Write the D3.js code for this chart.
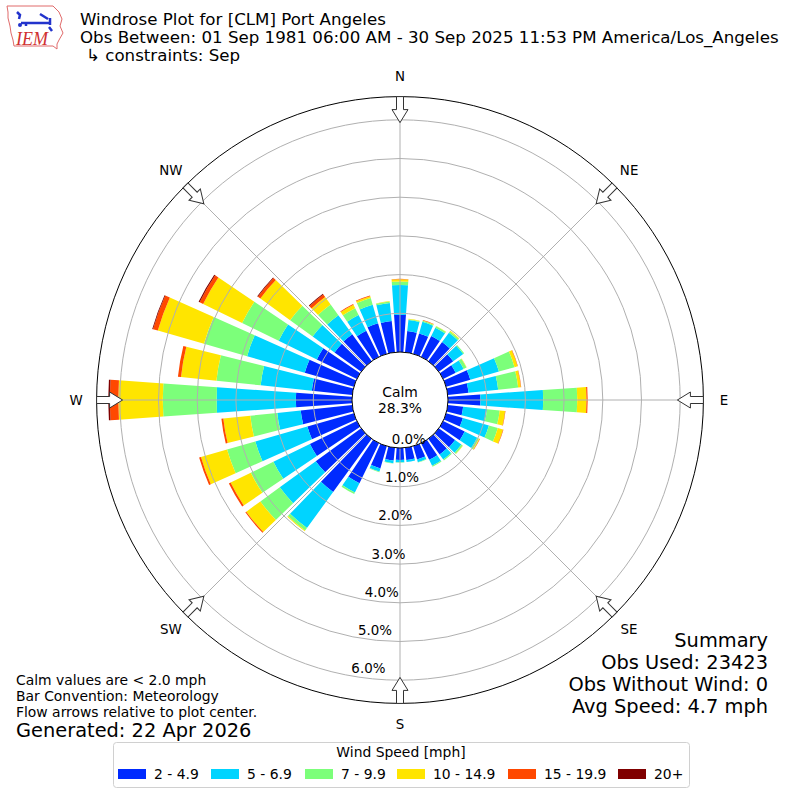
<!DOCTYPE html>
<html>
<head>
<meta charset="utf-8">
<script src="https://cdn.jsdelivr.net/npm/d3@7"></script>
<style>
body { margin: 0; background: #fff; }
svg { font-family: "DejaVu Sans", sans-serif; }
</style>
</head>
<body>
<svg width="800" height="800"></svg>
<script>
var svg = d3.select("svg");
var width = +svg.attr("width");
var height = +svg.attr("height");

// Direction bins (degrees, meteorological, wind from)
var directions = [0, 10, 20, 30, 40, 50, 60, 70, 80, 90, 100, 110, 120, 130, 140, 150, 160, 170,
    180, 190, 200, 210, 220, 230, 240, 250, 260, 270, 280, 290, 300, 310, 320, 330, 340, 350];

var speedBins = ["2 - 4.9", "5 - 6.9", "7 - 9.9", "10 - 14.9", "15 - 19.9", "20+"];
var binColors = ["#002aff", "#00d4ff", "#7cff7a", "#ffe500", "#ff4800", "#800000"];

// Percent of obs per direction, one array per speed bin
var speed2to5 = [0.96, 0.55, 0.55, 0.60, 0.61, 0.46, 0.36, 0.65, 0.54, 0.84, 0.40, 0.45,
    0.62, 0.52, 0.50, 0.48, 0.36, 0.32, 0.31, 0.33, 0.60, 1.15, 1.70, 1.45,
    1.35, 1.25, 1.34, 1.45, 1.05, 1.32, 1.15, 0.85, 0.86, 0.75, 0.82, 0.81];
var speed5to7 = [0.77, 0.29, 0.31, 0.24, 0.30, 0.32, 0.23, 0.77, 0.77, 1.62, 0.62, 0.70,
    0.36, 0.20, 0.16, 0.17, 0.07, 0.05, 0.06, 0.07, 0.08, 0.27, 1.15, 1.15,
    1.05, 1.40, 0.61, 2.05, 1.33, 1.55, 1.10, 0.70, 0.61, 0.45, 0.50, 0.47];
var speed7to10 = [0.09, 0.02, 0.03, 0.04, 0.04, 0.03, 0.08, 0.42, 0.52, 0.88, 0.33, 0.24,
    0.05, 0.04, 0.03, 0.03, 0.01, 0.00, 0.01, 0.01, 0.02, 0.04, 0.08, 0.62,
    0.65, 0.76, 0.70, 1.39, 1.15, 1.16, 1.05, 0.72, 0.34, 0.20, 0.18, 0.04];
var speed10to15 = [0.06, 0.01, 0.01, 0.01, 0.02, 0.00, 0.01, 0.08, 0.07, 0.24, 0.14, 0.14,
    0.02, 0.01, 0.00, 0.00, 0.00, 0.00, 0.00, 0.00, 0.00, 0.00, 0.02, 0.45,
    0.58, 0.70, 0.70, 1.15, 0.92, 1.24, 1.12, 0.95, 0.24, 0.10, 0.05, 0.01];
var speed15to20 = [0.01, 0.00, 0.01, 0.00, 0.00, 0.00, 0.00, 0.01, 0.01, 0.03, 0.01, 0.01,
    0.01, 0.00, 0.00, 0.00, 0.00, 0.00, 0.00, 0.00, 0.00, 0.00, 0.00, 0.03,
    0.05, 0.05, 0.05, 0.22, 0.08, 0.13, 0.10, 0.08, 0.08, 0.02, 0.02, 0.00];
var speed20plus = [0.00, 0.00, 0.00, 0.00, 0.00, 0.00, 0.00, 0.00, 0.00, 0.00, 0.00, 0.00,
    0.00, 0.00, 0.00, 0.00, 0.00, 0.00, 0.00, 0.00, 0.00, 0.00, 0.00, 0.00,
    0.00, 0.00, 0.00, 0.04, 0.00, 0.02, 0.03, 0.02, 0.02, 0.00, 0.00, 0.00];
var series = [speed2to5, speed5to7, speed7to10, speed10to15, speed15to20, speed20plus];

var calmPercent = 28.3;
var radialTicks = [0, 1, 2, 3, 4, 5, 6];
var compassLabels = ["N", "NE", "E", "SE", "S", "SW", "W", "NW"];
var compassAngles = [0, 45, 90, 135, 180, 225, 270, 315];

var titleLines = [
    "Windrose Plot for [CLM] Port Angeles",
    "Obs Between: 01 Sep 1981 06:00 AM - 30 Sep 2025 11:53 PM America/Los_Angeles",
    "\u21b3 constraints: Sep"
];
var summaryLines = ["Summary", "Obs Used: 23423", "Obs Without Wind: 0", "Avg Speed: 4.7 mph"];
var noteLines = ["Calm values are < 2.0 mph", "Bar Convention: Meteorology", "Flow arrows relative to plot center."];
var generatedText = "Generated: 22 Apr 2026";

var cx = 400, cy = 400;
var r = d3.scaleLinear().domain([0, 6.6]).range([48, 303.4]);
var rad = Math.PI / 180;
var small = 13.9;

var plot = svg.append("g").attr("transform", "translate(" + cx + "," + cy + ")");

// stacked segments
var segments = [];
directions.forEach(function(dir, i) {
    var cum = 0;
    series.forEach(function(s, k) {
        if (s[i] > 0) {
            segments.push({ dir: dir, k: k, y0: cum, y1: cum + s[i] });
        }
        cum += s[i];
    });
});

var arc = d3.arc()
    .innerRadius(function(d) { return r(d.y0); })
    .outerRadius(function(d) { return r(d.y1); })
    .startAngle(function(d) { return (d.dir - 4) * rad; })
    .endAngle(function(d) { return (d.dir + 4) * rad; });

plot.append("g")
    .selectAll("path")
    .data(segments)
    .enter()
    .append("path")
    .attr("d", arc)
    .attr("fill", function(d) { return binColors[d.k]; });

// grid on top of bars
var grid = plot.append("g").attr("fill", "none").attr("stroke", "#b0b0b0").attr("stroke-width", 1);
grid.selectAll("circle")
    .data(radialTicks.slice(1))
    .enter()
    .append("circle")
    .attr("r", function(d) { return r(d); });
grid.selectAll("line")
    .data(compassAngles)
    .enter()
    .append("line")
    .attr("x1", function(d) { return r(0) * Math.sin(d * rad); })
    .attr("y1", function(d) { return -r(0) * Math.cos(d * rad); })
    .attr("x2", function(d) { return r.range()[1] * Math.sin(d * rad); })
    .attr("y2", function(d) { return -r.range()[1] * Math.cos(d * rad); });

plot.append("circle")
    .attr("r", r.range()[1])
    .attr("fill", "none")
    .attr("stroke", "#000")
    .attr("stroke-width", 1);

// calm circle
plot.append("circle")
    .attr("r", r(0))
    .attr("fill", "#fff")
    .attr("stroke", "#000")
    .attr("stroke-width", 1);
plot.append("text")
    .attr("text-anchor", "middle")
    .attr("y", -3)
    .attr("font-size", small)
    .text("Calm");
plot.append("text")
    .attr("text-anchor", "middle")
    .attr("y", 13)
    .attr("font-size", small)
    .text(calmPercent.toFixed(1) + "%");

// radial labels along 190 degrees
plot.append("g")
    .selectAll("text")
    .data(radialTicks)
    .enter()
    .append("text")
    .attr("x", function(d) { return r(d) * Math.sin(190 * rad); })
    .attr("y", function(d) { return -r(d) * Math.cos(190 * rad) - 3; })
    .attr("font-size", 13.4)
    .text(function(d) { return d.toFixed(1) + "%"; });

// flow arrows
var rOut = r.range()[1];
var arrowPath = "M-3.5," + (-rOut) + "L3.5," + (-rOut) + "L3.5," + (-rOut + 13) +
    "L8," + (-rOut + 13) + "L0," + (-rOut + 26) + "L-8," + (-rOut + 13) +
    "L-3.5," + (-rOut + 13) + "Z";
plot.append("g")
    .selectAll("path")
    .data(compassAngles)
    .enter()
    .append("path")
    .attr("d", arrowPath)
    .attr("transform", function(d) { return "rotate(" + d + ")"; })
    .attr("fill", "#fff")
    .attr("stroke", "#333")
    .attr("stroke-width", 1);

// compass labels
plot.append("g")
    .selectAll("text")
    .data(compassLabels)
    .enter()
    .append("text")
    .attr("x", function(d, i) { return 324 * Math.sin(compassAngles[i] * rad); })
    .attr("y", function(d, i) { return -324 * Math.cos(compassAngles[i] * rad); })
    .attr("text-anchor", "middle")
    .attr("dominant-baseline", "central")
    .attr("font-size", 13.4)
    .text(function(d) { return d; });

// title
svg.append("g")
    .selectAll("text")
    .data(titleLines)
    .enter()
    .append("text")
    .attr("x", function(d, i) { return i == 2 ? 86 : 80; })
    .attr("y", function(d, i) { return 25 + i * 18; })
    .attr("font-size", 16.67)
    .text(function(d) { return d; });

// summary
svg.append("g")
    .selectAll("text")
    .data(summaryLines)
    .enter()
    .append("text")
    .attr("x", 768)
    .attr("y", function(d, i) { return 647 + i * 22; })
    .attr("text-anchor", "end")
    .attr("font-size", 19.4)
    .text(function(d) { return d; });

// notes
svg.append("g")
    .selectAll("text")
    .data(noteLines)
    .enter()
    .append("text")
    .attr("x", 16)
    .attr("y", function(d, i) { return 685 + i * 16; })
    .attr("font-size", small)
    .text(function(d) { return d; });
svg.append("text")
    .attr("x", 16)
    .attr("y", 737)
    .attr("font-size", 19.4)
    .text(generatedText);

// legend
var legend = svg.append("g");
legend.append("rect")
    .attr("x", 113.5).attr("y", 742.5)
    .attr("width", 576).attr("height", 45)
    .attr("rx", 3)
    .attr("fill", "#fff")
    .attr("stroke", "#d0d0d0");
legend.append("text")
    .attr("x", 401).attr("y", 757)
    .attr("text-anchor", "middle")
    .attr("font-size", small)
    .text("Wind Speed [mph]");
var legendX = [118, 211, 305, 397, 508, 618];
var item = legend.selectAll("g.item")
    .data(speedBins)
    .enter()
    .append("g")
    .attr("class", "item")
    .attr("transform", function(d, i) { return "translate(" + legendX[i] + ",769)"; });
item.append("rect")
    .attr("width", 28).attr("height", 10)
    .attr("fill", function(d, i) { return binColors[i]; });
item.append("text")
    .attr("x", 36).attr("y", 10)
    .attr("font-size", small)
    .text(function(d) { return d; });

// IEM logo
var logo = svg.append("g");
logo.append("path")
    .attr("d", "M7,6 L53,6 L56,9 L59,12 L62,19 L60,26 L63,33 L59,40 L57,44 L57,49 L53,46 L14,46 L13,40 L11,33 L10,26 L8,18 L8,12 Z")
    .attr("fill", "#fff")
    .attr("stroke", "#e06a6a")
    .attr("stroke-width", 1);
logo.append("path")
    .attr("d", "M17,12 L20,15 L19,19 M21,23 L50,23 M40,14 L48,19 M50,18 L50,25 M49,27 L52,31 M26,23 L26,26")
    .attr("fill", "none")
    .attr("stroke", "#2233cc")
    .attr("stroke-width", 2.5);
logo.append("circle").attr("cx", 20).attr("cy", 25).attr("r", 2).attr("fill", "#2233cc");
logo.append("text")
    .attr("x", 16).attr("y", 45)
    .attr("font-family", "Liberation Serif, serif")
    .attr("font-style", "italic")
    .attr("font-size", 18)
    .attr("fill", "#d03030")
    .text("IEM");
</script>
</body>
</html>
